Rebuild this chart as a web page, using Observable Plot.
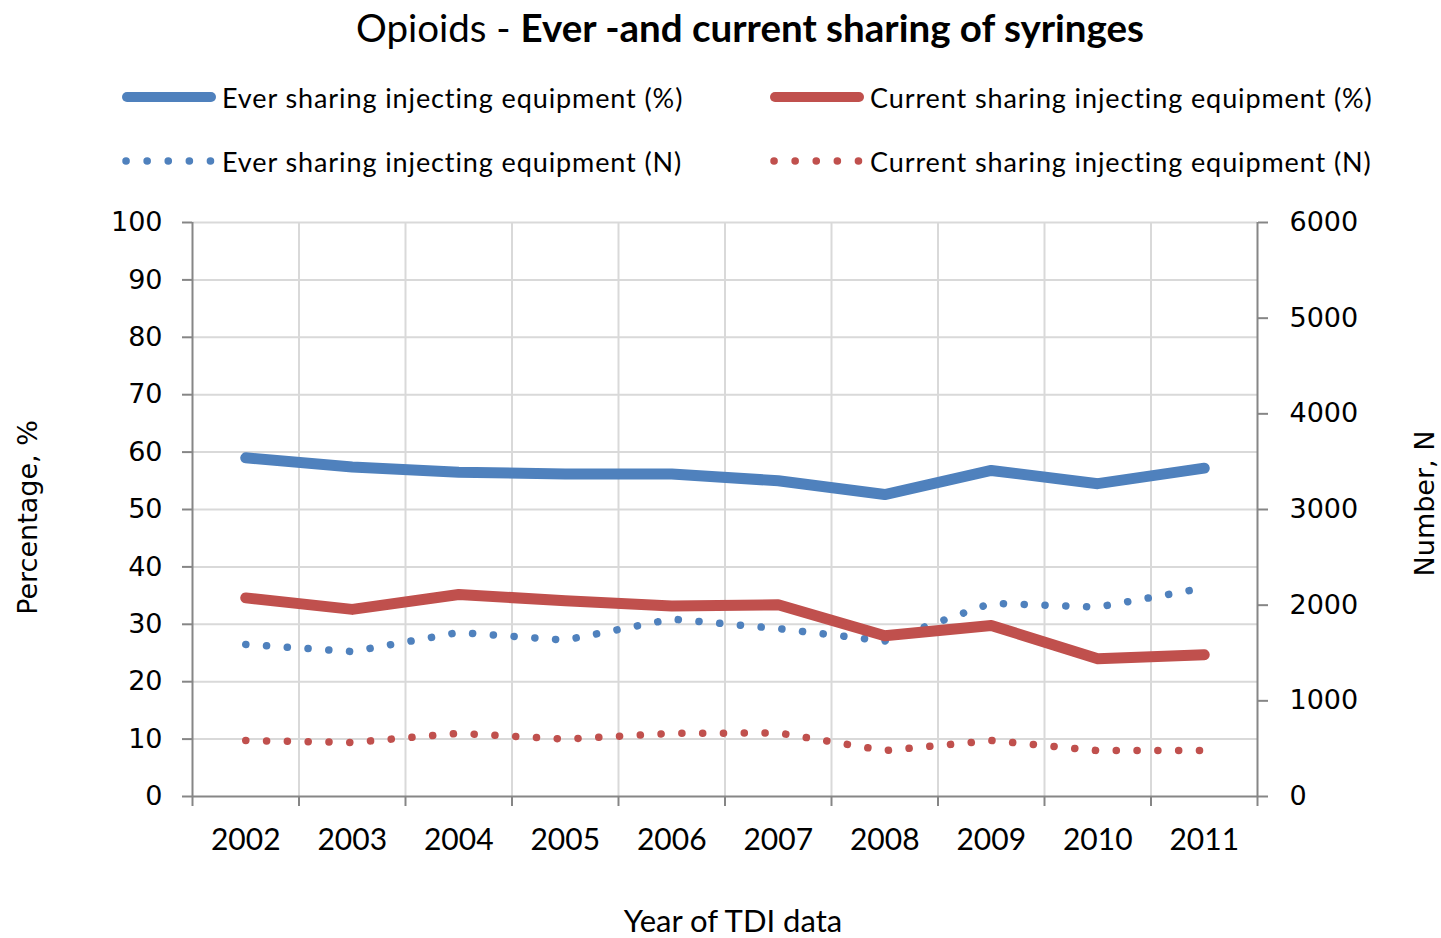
<!DOCTYPE html>
<html><head><meta charset="utf-8">
<script src="https://cdn.jsdelivr.net/npm/d3@7"></script>
<script src="https://cdn.jsdelivr.net/npm/@observablehq/plot@0.6"></script>
<style>
body{margin:0;background:#fff;width:1441px;height:938px;overflow:hidden;position:relative;font-family:Lato,"Open Sans",sans-serif;color:#000;}
#chart{position:absolute;left:0;top:0;}
#title{position:absolute;top:5px;left:0;width:1500px;text-align:center;font-size:38.5px;line-height:44px;white-space:nowrap;}
#title b{font-weight:700;}
.leg{position:absolute;height:40px;display:flex;align-items:center;font-size:27px;letter-spacing:0.9px;white-space:nowrap;}
.leg svg{margin-right:6px;}
</style></head>
<body>
<div id="chart"></div>
<div id="title">Opioids - <b>Ever -and current sharing of syringes</b></div>
<div id="legend"></div>
<script>
const years = [2002, 2003, 2004, 2005, 2006, 2007, 2008, 2009, 2010, 2011];
const everPct = [59.0, 57.4, 56.5, 56.2, 56.2, 55.0, 52.6, 56.8, 54.5, 57.2];
const currentPct = [34.6, 32.6, 35.2, 34.1, 33.2, 33.4, 28.0, 29.8, 24.0, 24.7];
const everN = [1590, 1515, 1715, 1635, 1855, 1755, 1625, 2020, 1980, 2180];
const currentN = [585, 565, 660, 600, 660, 665, 480, 585, 480, 480];
const pctTicks = [0, 10, 20, 30, 40, 50, 60, 70, 80, 90, 100];
const nTicks = [0, 1000, 2000, 3000, 4000, 5000, 6000];
const seriesNames = [
  "Ever sharing injecting equipment (%)",
  "Current sharing injecting equipment (%)",
  "Ever sharing injecting equipment (N)",
  "Current sharing injecting equipment (N)"
];
const blue = "#4F81BD", red = "#C0504D";
const nMax = 6000;

const rows = years.map((y, i) => ({year: y, everPct: everPct[i], currentPct: currentPct[i], everN: everN[i], currentN: currentN[i]}));
const toPct = n => n / nMax * 100;
const bounds = d3.range(years[0] - 0.5, years[years.length - 1] + 1, 1);
const inner = bounds.slice(1, -1);
const axisGrey = "#868686", gridGrey = "#d9d9d9";
const tickFont = "DejaVu Sans, Verdana, sans-serif";

const plot = Plot.plot({
  width: 1441, height: 938,
  marginTop: 222, marginBottom: 142, marginLeft: 192, marginRight: 184,
  x: {type: "linear", domain: [bounds[0], bounds[bounds.length - 1]]},
  y: {domain: [0, 100]},
  style: {background: "transparent", color: "#000"},
  marks: [
    Plot.ruleY(pctTicks.slice(1), {stroke: gridGrey, strokeWidth: 2}),
    Plot.ruleX(inner, {stroke: gridGrey, strokeWidth: 2}),
    Plot.ruleX([bounds[0], bounds[bounds.length - 1]], {stroke: axisGrey, strokeWidth: 2}),
    Plot.ruleY([0], {stroke: axisGrey, strokeWidth: 2}),
    Plot.axisY(pctTicks, {anchor: "left", tickSize: 10, tickPadding: 20, fontSize: 27, fontFamily: tickFont, stroke: axisGrey, strokeWidth: 2, label: null}),
    Plot.axisY(nTicks.map(toPct), {anchor: "right", tickSize: 10, tickPadding: 22, fontSize: 27, fontFamily: tickFont, stroke: axisGrey, strokeWidth: 2, tickFormat: d => String(Math.round(d / 100 * nMax)), label: null}),
    Plot.axisX(bounds, {anchor: "bottom", tickSize: 10, tickFormat: () => "", stroke: axisGrey, strokeWidth: 2, label: null}),
    Plot.axisX(years, {anchor: "bottom", tickSize: 0, tickPadding: 32, fontSize: 30, fontFamily: "Lato, sans-serif", tickFormat: d => String(d), label: null}),
    Plot.text(["Year of TDI data"], {frameAnchor: "bottom", dx: 8, dy: 135, fontSize: 31, fontFamily: "Lato, sans-serif"}),
    Plot.text(["Percentage, %"], {frameAnchor: "left", textAnchor: "middle", dx: -164, dy: 8, rotate: -90, fontSize: 27, fontFamily: tickFont}),
    Plot.text(["Number, N"], {frameAnchor: "right", textAnchor: "middle", dx: 168, dy: -6, rotate: -90, fontSize: 27, fontFamily: tickFont}),
    Plot.line(rows, {x: "year", y: d => toPct(d.everN), stroke: blue, strokeWidth: 7.5, strokeDasharray: "0.1 20.7", strokeLinecap: "round"}),
    Plot.line(rows, {x: "year", y: d => toPct(d.currentN), stroke: red, strokeWidth: 7.5, strokeDasharray: "0.1 20.7", strokeLinecap: "round"}),
    Plot.line(rows, {x: "year", y: "everPct", stroke: blue, strokeWidth: 11, strokeLinecap: "round", strokeLinejoin: "round"}),
    Plot.line(rows, {x: "year", y: "currentPct", stroke: red, strokeWidth: 11, strokeLinecap: "round", strokeLinejoin: "round"})
  ]
});
document.getElementById("chart").append(plot);

// legend
const legendItems = [
  {name: seriesNames[0], color: blue, dotted: false, left: 122, top: 77},
  {name: seriesNames[1], color: red, dotted: false, left: 770, top: 77},
  {name: seriesNames[2], color: blue, dotted: true, left: 122, top: 141},
  {name: seriesNames[3], color: red, dotted: true, left: 770, top: 141}
];
const legend = document.getElementById("legend");
for (const it of legendItems) {
  const div = document.createElement("div");
  div.className = "leg";
  div.style.left = it.left + "px";
  div.style.top = it.top + "px";
  const sample = it.dotted
    ? `<svg width="94" height="14"><line x1="4" y1="7" x2="92" y2="7" stroke="${it.color}" stroke-width="7.5" stroke-linecap="round" stroke-dasharray="0.1 21"/></svg>`
    : `<svg width="94" height="14"><line x1="5" y1="7" x2="89" y2="7" stroke="${it.color}" stroke-width="10" stroke-linecap="round"/></svg>`;
  div.innerHTML = sample + `<span>${it.name}</span>`;
  legend.append(div);
}
</script>
</body></html>
